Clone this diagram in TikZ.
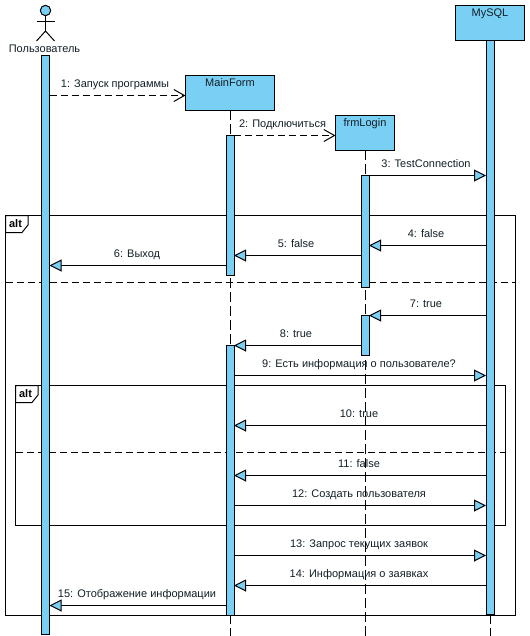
\documentclass[tikz,border=0pt]{standalone}
\usepackage{fontspec}
\setmainfont{Liberation Sans}
\usetikzlibrary{arrows.meta}
\definecolor{ub}{HTML}{7ACFF5}
\definecolor{ink}{HTML}{000000}
\tikzset{
  every node/.style={font=\fontsize{8.25}{10}\selectfont, text=ink!85!ub},
  ln/.style={line width=0.75pt, draw=black},
  box/.style={ln, fill=ub, anchor=north, outer sep=0pt, inner xsep=0pt, inner ysep=0pt, text height=8.6pt, text depth=17.6pt},
  act/.style={ln, fill=ub, anchor=north, outer sep=0pt, inner sep=0pt, minimum width=6pt},
  life/.style={ln, dash pattern=on 7pt off 3.5pt},
  frame/.style={ln},
  sep/.style={ln, dash pattern=on 5.25pt off 3pt},
  tag/.style={anchor=base, inner sep=0pt, font=\fontsize{8.25}{10}\selectfont\bfseries, text=black},
  mlab/.style={anchor=base, inner sep=0pt},
  sync/.style={ln, -{Triangle[length=9pt,width=9pt,fill=ub]}},
  open/.style={ln, dash pattern=on 5.25pt off 3pt, -{Straight Barb[length=8pt,width=9pt]}},
}
\begin{document}
\begin{tikzpicture}[x=0.75pt,y=-0.75pt]
\useasboundingbox (0,0) rectangle (529,636);
% frames
\draw[frame] (5.5,215.5) rectangle (515.5,615.5);
\draw[frame,fill=white] (5.5,215.5) -- (28,215.5) -- (28,225) -- (22,232.5) -- (5.5,232.5) -- cycle;
\node[tag] (alta) at (15.5,227) {alt};
\draw[sep] (5.5,282.5) -- (515.5,282.5);
\draw[frame] (15.5,385.5) rectangle (505.5,525.5);
\draw[frame,fill=white] (15.5,385.5) -- (38,385.5) -- (38,395) -- (32,402.5) -- (15.5,402.5) -- cycle;
\node[tag] (altb) at (25.5,397) {alt};
\draw[sep] (15.5,452.5) -- (505.5,452.5);
% actor
\node[ln, circle, fill=ub, outer sep=0pt, minimum size=7.8pt, inner sep=0pt] (head) at (45.5,10.5) {};
\coordinate (hip) at (45.5,31);
\coordinate (armL) at (36.5,21);
\coordinate (armR) at (54.5,21);
\coordinate (legL) at (36.5,41);
\coordinate (legR) at (54.5,41);
\draw[ln] (head.south) -- (hip);
\draw[ln] (armL) -- (armR);
\draw[ln] (legL) -- (hip) -- (legR);
\node[anchor=base, inner sep=0pt] (user) at (44.5,52) {Пользователь};
% object boxes
\node[box, minimum width={89*0.75pt}] (mf) at (230,75.5) {MainForm};
\node[box, minimum width={59*0.75pt}] (fl) at (365,115.5) {frmLogin};
\node[box, minimum width={69*0.75pt}] (ms) at (490,5.5) {MySQL};
% lifelines
\coordinate (mfend) at (230,636);
\coordinate (flend) at (365,636);
\coordinate (msend) at (490,636);
\draw[life] (mf.south) -- (mfend);
\draw[life] (fl.south) -- (flend);
\draw[life] (ms.south) -- (msend);
% activations
\node[act, minimum height={579*0.75pt}] (ua) at (45.5,55.5) {};
\node[act, minimum height={140*0.75pt}] (m1) at (230,135.5) {};
\node[act, minimum height={270*0.75pt}] (m2) at (230,345.5) {};
\node[act, minimum height={112*0.75pt}] (f1) at (365,175.5) {};
\node[act, minimum height={40*0.75pt}] (f2) at (365,315.5) {};
\node[act, minimum height={574*0.75pt}] (sq) at (490,40.5) {};
% messages
\draw[open] (ua.east |- 0,95.5) -- (mf.west |- 0,95.5);
\node[mlab] (l1) at (115,87) {1: Запуск программы};
\draw[open] (m1.east |- 0,135.5) -- (fl.west |- 0,135.5);
\node[mlab] (l2) at (282.5,127) {2: Подключиться};
\draw[sync] (f1.east |- 0,175.5) -- (sq.west |- 0,175.5);
\node[mlab] (l3) at (426,167) {3: TestConnection};
\draw[sync] (sq.west |- 0,245.5) -- (f1.east |- 0,245.5);
\node[mlab] (l4) at (426,237) {4: false};
\draw[sync] (f1.west |- 0,255.5) -- (m1.east |- 0,255.5);
\node[mlab] (l5) at (296,247) {5: false};
\draw[sync] (m1.west |- 0,265.5) -- (ua.east |- 0,265.5);
\node[mlab] (l6) at (137,257) {6: Выход};
\draw[sync] (sq.west |- 0,315.5) -- (f2.east |- 0,315.5);
\node[mlab] (l7) at (426,307) {7: true};
\draw[sync] (f2.west |- 0,345.5) -- (m2.east |- 0,345.5);
\node[mlab] (l8) at (296,337) {8: true};
\draw[sync] (m2.east |- 0,375.5) -- (sq.west |- 0,375.5);
\node[mlab] (l9) at (359,367) {9: Есть информация о пользователе?};
\draw[sync] (sq.west |- 0,425.5) -- (m2.east |- 0,425.5);
\node[mlab] (l10) at (359,417) {10: true};
\draw[sync] (sq.west |- 0,475.5) -- (m2.east |- 0,475.5);
\node[mlab] (l11) at (359,467) {11: false};
\draw[sync] (m2.east |- 0,505.5) -- (sq.west |- 0,505.5);
\node[mlab] (l12) at (359,497) {12: Создать пользователя};
\draw[sync] (m2.east |- 0,555.5) -- (sq.west |- 0,555.5);
\node[mlab] (l13) at (359,547) {13: Запрос текущих заявок};
\draw[sync] (sq.west |- 0,585.5) -- (m2.east |- 0,585.5);
\node[mlab] (l14) at (359,577) {14: Информация о заявках};
\draw[sync] (m2.west |- 0,605.5) -- (ua.east |- 0,605.5);
\node[mlab] (l15) at (137,597) {15: Отображение информации};
\end{tikzpicture}
\end{document}
